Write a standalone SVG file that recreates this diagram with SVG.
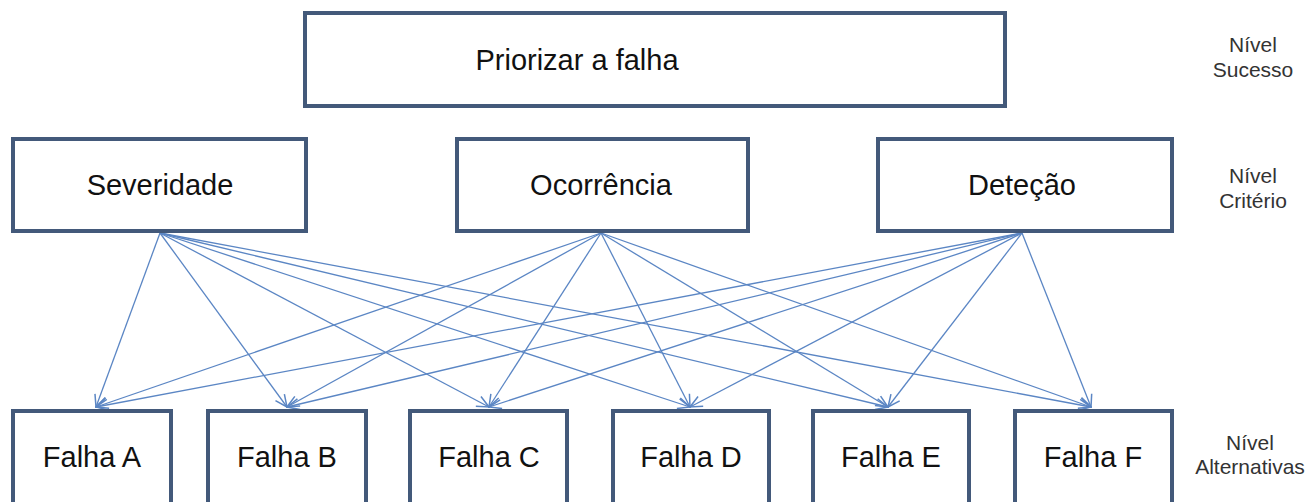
<svg xmlns="http://www.w3.org/2000/svg" width="1309" height="502" viewBox="0 0 1309 502">
  <style>
    .box { fill: #ffffff; stroke: #43597A; stroke-width: 4; }
    .label { font-family: "Liberation Sans", Arial, sans-serif; font-size: 29px; fill: #111111; text-anchor: middle; }
    .level { font-family: "Liberation Sans", Arial, sans-serif; font-size: 21px; fill: #333333; text-anchor: middle; }
    .link { stroke: #5B86C4; stroke-width: 1.3; fill: none; marker-end: url(#arrow); }
  </style>
  <defs>
    <marker id="arrow" viewBox="0 0 14 14" refX="13" refY="7" markerWidth="14" markerHeight="14" markerUnits="userSpaceOnUse" orient="auto">
      <path d="M1,1.5 L13,7 L1,12.5" fill="none" stroke="#5B86C4" stroke-width="1.5"/>
    </marker>
  </defs>

  <rect width="1309" height="502" fill="#ffffff"/>

  <!-- connectors: every criterion points to every alternative -->
  <g id="connectors">
    <line class="link" x1="160" y1="233" x2="96" y2="407"/>
    <line class="link" x1="160" y1="233" x2="287" y2="407"/>
    <line class="link" x1="160" y1="233" x2="489" y2="407"/>
    <line class="link" x1="160" y1="233" x2="690" y2="407"/>
    <line class="link" x1="160" y1="233" x2="888" y2="407"/>
    <line class="link" x1="160" y1="233" x2="1091" y2="407"/>

    <line class="link" x1="601" y1="233" x2="96" y2="407"/>
    <line class="link" x1="601" y1="233" x2="287" y2="407"/>
    <line class="link" x1="601" y1="233" x2="489" y2="407"/>
    <line class="link" x1="601" y1="233" x2="690" y2="407"/>
    <line class="link" x1="601" y1="233" x2="888" y2="407"/>
    <line class="link" x1="601" y1="233" x2="1091" y2="407"/>

    <line class="link" x1="1022" y1="233" x2="96" y2="407"/>
    <line class="link" x1="1022" y1="233" x2="287" y2="407"/>
    <line class="link" x1="1022" y1="233" x2="489" y2="407"/>
    <line class="link" x1="1022" y1="233" x2="690" y2="407"/>
    <line class="link" x1="1022" y1="233" x2="888" y2="407"/>
    <line class="link" x1="1022" y1="233" x2="1091" y2="407"/>
  </g>

  <!-- goal level -->
  <g id="goal">
    <rect class="box" x="305" y="13" width="700" height="93"/>
    <text class="label" x="577" y="70">Priorizar a falha</text>
  </g>

  <!-- criteria level -->
  <g id="severidade">
    <rect class="box" x="13" y="139" width="293" height="92"/>
    <text class="label" x="160" y="195">Severidade</text>
  </g>
  <g id="ocorrencia">
    <rect class="box" x="457" y="139" width="291" height="92"/>
    <text class="label" x="601" y="195">Ocorrência</text>
  </g>
  <g id="detecao">
    <rect class="box" x="878" y="139" width="294" height="92"/>
    <text class="label" x="1022" y="195">Deteção</text>
  </g>

  <!-- alternatives level -->
  <g id="falha-a">
    <rect class="box" x="13" y="411" width="158" height="100"/>
    <text class="label" x="92" y="467">Falha A</text>
  </g>
  <g id="falha-b">
    <rect class="box" x="208" y="411" width="158" height="100"/>
    <text class="label" x="287" y="467">Falha B</text>
  </g>
  <g id="falha-c">
    <rect class="box" x="410" y="411" width="157" height="100"/>
    <text class="label" x="489" y="467">Falha C</text>
  </g>
  <g id="falha-d">
    <rect class="box" x="613" y="411" width="156" height="100"/>
    <text class="label" x="691" y="467">Falha D</text>
  </g>
  <g id="falha-e">
    <rect class="box" x="813" y="411" width="156" height="100"/>
    <text class="label" x="891" y="467">Falha E</text>
  </g>
  <g id="falha-f">
    <rect class="box" x="1015" y="411" width="157" height="100"/>
    <text class="label" x="1093" y="467">Falha F</text>
  </g>

  <!-- level captions -->
  <g id="level-captions">
    <text class="level" x="1253" y="52">Nível</text>
    <text class="level" x="1253" y="77">Sucesso</text>
    <text class="level" x="1253" y="183">Nível</text>
    <text class="level" x="1253" y="208">Critério</text>
    <text class="level" x="1250" y="450">Nível</text>
    <text class="level" x="1250" y="474">Alternativas</text>
  </g>
</svg>
